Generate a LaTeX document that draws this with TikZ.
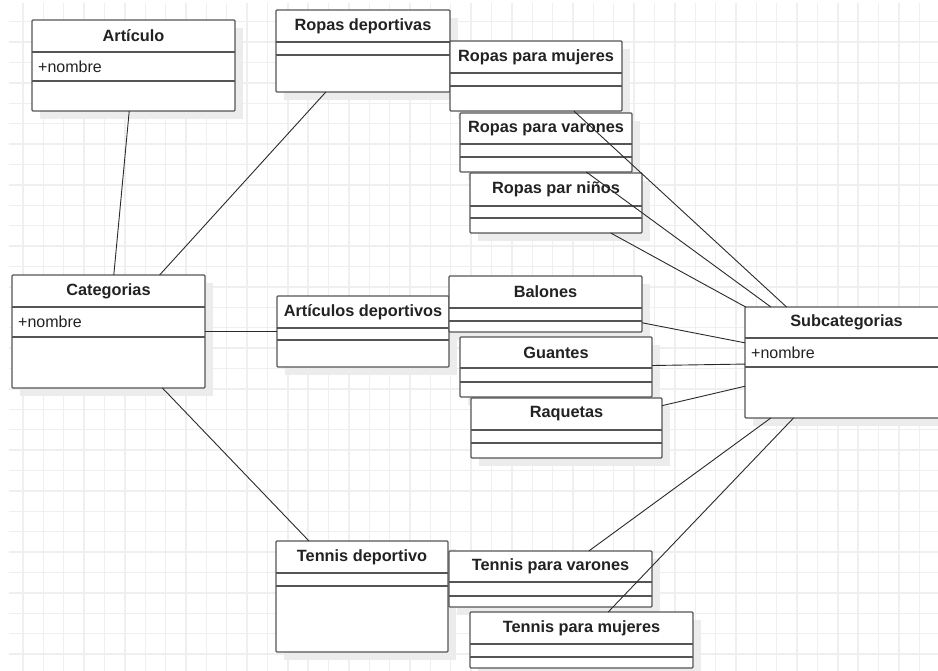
\documentclass[tikz,border=0pt]{standalone}
\usepackage{fontspec}
\setmainfont{Liberation Sans}
\usetikzlibrary{calc}

\definecolor{gridc}{HTML}{EFEFEF}
\definecolor{shadowc}{HTML}{ECECEC}
\definecolor{borderc}{HTML}{555555}
\definecolor{linkc}{HTML}{2A2A2A}
\definecolor{textc}{HTML}{222222}

\pgfdeclarelayer{bg}
\pgfdeclarelayer{shad}
\pgfsetlayers{bg,shad,main}

\tikzset{
  gridline/.style={draw=gridc, line width=1.4pt},
  classbox/.style={draw=borderc, fill=white, line width=1.3pt, rounded corners=1pt,
    inner sep=0pt, outer sep=0pt},
  classline/.style={draw=borderc, line width=1.3pt},
  boxshadow/.style={fill=shadowc},
  titletext/.style={inner sep=0pt, text=textc, font=\fontsize{16.3}{19}\selectfont\bfseries},
  attrtext/.style={inner sep=0pt, anchor=west, text=textc, font=\fontsize{16}{19}\selectfont},
  assoc/.style={draw=linkc, line width=0.9pt},
}

% UML class: name, left, top, right, bottom, first divider, second divider, title, attribute
\newcommand\umlclass[9]{%
  \begin{pgfonlayer}{shad}
    \fill[boxshadow] ({#2+8},{#3+8}) rectangle ({#4+8},{#5+8});
  \end{pgfonlayer}
  \node[classbox, minimum width={(#4-#2)*1pt}, minimum height={(#5-#3)*1pt}]
    (#1) at ({(#2+#4)/2},{(#3+#5)/2}) {};
  \draw[classline] (#2,#6) -- (#4,#6);
  \draw[classline] (#2,#7) -- (#4,#7);
  \node[titletext] (#1-title) at ({(#2+#4)/2},{(#3+#6)/2}) {#8};
  \node[attrtext] (#1-attr) at ({#2+6},{(#6+#7)/2}) {#9};
}

\begin{document}
\begin{tikzpicture}[x=1pt, y=-1pt]
  \useasboundingbox (0,0) rectangle (938,671);
  \begin{pgfonlayer}{bg}
    \fill[white] (0,0) rectangle (938,671);
    \foreach \i in {0,...,44}
      \draw[gridline] ({23+20.37*\i},3) -- ({23+20.37*\i},671);
    \foreach \j in {0,...,31}
      \draw[gridline] (9,{21.7+20.4*\j}) -- (938,{21.7+20.4*\j});
  \end{pgfonlayer}

  % classes
  \umlclass{artic}{32}{20}{235}{111}{52}{81}{Artículo}{+nombre}
  \umlclass{ropdep}{276}{10}{450}{92}{42}{55}{Ropas deportivas}{}
  \umlclass{ropmuj}{450}{41}{622}{111}{73}{86}{Ropas para mujeres}{}
  \umlclass{ropvar}{460}{113}{632}{172}{144}{157}{Ropas para varones}{}
  \umlclass{ropnin}{470}{173}{642}{233}{206}{218}{Ropas par niños}{}
  \umlclass{categ}{12}{275}{205}{388}{307}{337}{Categorias}{+nombre}
  \umlclass{artdep}{277}{296}{449}{367}{328}{340}{Artículos deportivos}{}
  \umlclass{balon}{449}{276}{642}{332}{308}{321}{Balones}{}
  \umlclass{guant}{460}{337}{652}{397}{368}{382}{Guantes}{}
  \umlclass{raque}{471}{398}{662}{458}{430}{443}{Raquetas}{}
  \umlclass{subcat}{745}{307}{948}{418}{338}{367}{Subcategorias}{+nombre}
  \umlclass{tendep}{276}{541}{448}{652}{573}{586}{Tennis deportivo}{}
  \umlclass{tenvar}{449}{551}{652}{607}{582}{596}{Tennis para varones}{}
  \umlclass{tenmuj}{470}{612}{693}{668}{644}{657}{Tennis para mujeres}{}

  % associations
  \draw[assoc] (artic) -- (categ);
  \draw[assoc] (ropdep) -- (categ);
  \draw[assoc] (categ) -- (artdep);
  \draw[assoc] (categ) -- (tendep);
  \draw[assoc] (ropmuj) -- (subcat);
  \draw[assoc] (ropvar) -- (subcat);
  \draw[assoc] (ropnin) -- (subcat);
  \draw[assoc] (balon) -- (subcat);
  \draw[assoc] (guant) -- (subcat);
  \draw[assoc] (raque) -- (subcat);
  \draw[assoc] (tenvar) -- (subcat);
  \draw[assoc] (tenmuj) -- (subcat);
\end{tikzpicture}
\end{document}
